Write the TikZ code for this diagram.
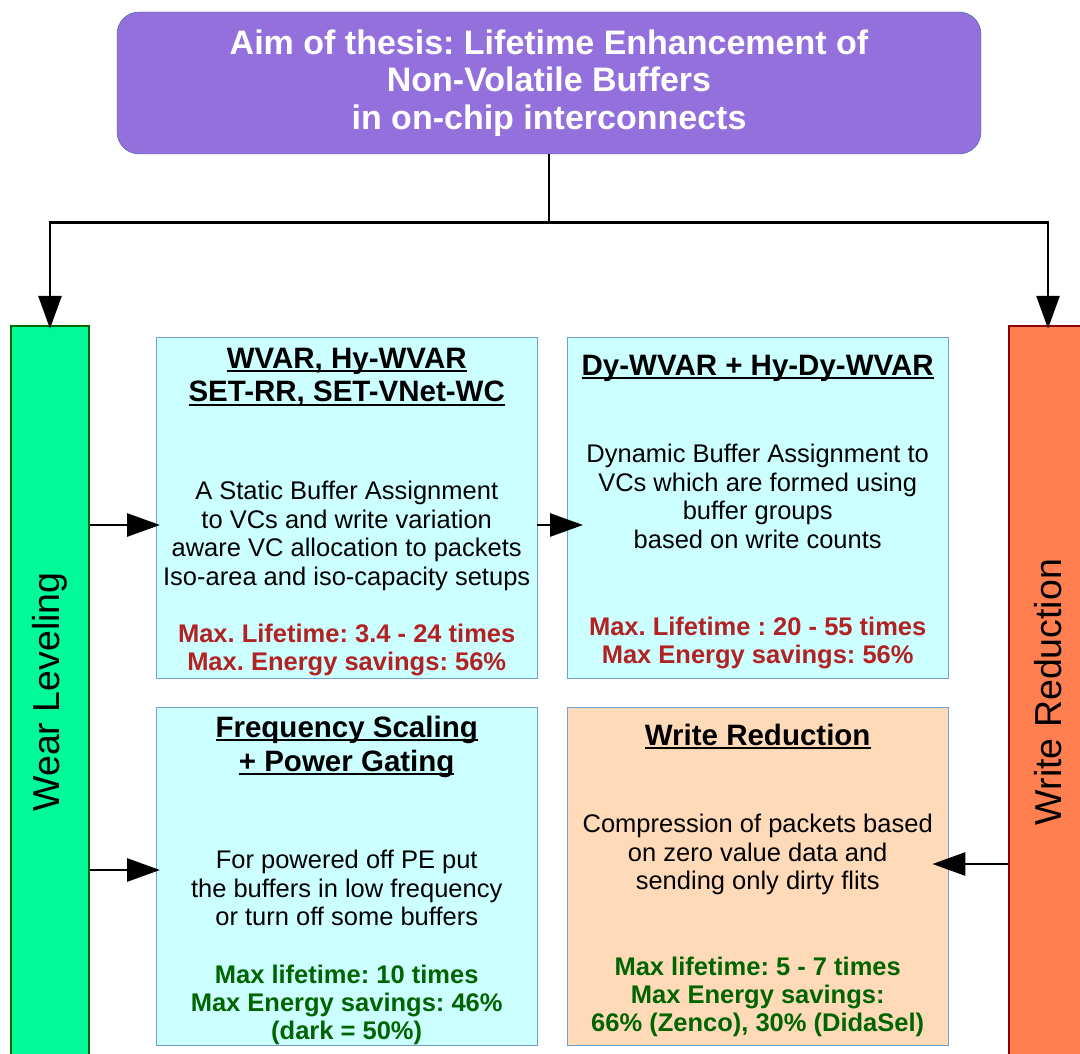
\documentclass[tikz,border=0pt]{standalone}
\usepackage{fontspec}
\setmainfont{Liberation Sans}
\usepackage{xcolor}
\usetikzlibrary{arrows.meta,positioning}
\frenchspacing

\definecolor{aimfill}{HTML}{9370DB}
\definecolor{aimline}{HTML}{3465A4}
\definecolor{wlfill}{HTML}{00FA9A}
\definecolor{wlline}{HTML}{006800}
\definecolor{wrfill}{HTML}{FF7F50}
\definecolor{wrline}{HTML}{8B0000}
\definecolor{cardcyan}{HTML}{CCFFFF}
\definecolor{cardpeach}{HTML}{FFDAB9}
\definecolor{cardline}{HTML}{729FCF}
\definecolor{statred}{HTML}{B22222}
\definecolor{statgreen}{HTML}{006400}

% underlined heading line
\newcommand{\undertitle}[1]{\setbox0\hbox{#1}\rlap{\usebox0}\rule[-3.6pt]{\wd0}{1.8pt}}

\begin{document}
\begin{tikzpicture}[x=1pt, y=-1pt,
  aim/.style={draw=aimline, fill=aimfill, rounded corners=22pt, minimum width=864pt, minimum height=142pt,
    inner sep=0pt, text=white, align=center, font=\fontsize{34}{37.5}\selectfont\bfseries},
  bar/.style={rotate=90, minimum width=732pt, minimum height=78pt, inner sep=0pt, line width=2.5pt,
    font=\fontsize{37.5}{40}\selectfont},
  card/.style={draw=cardline, fill=cardcyan, minimum width=381pt, minimum height=341pt, anchor=north west, inner sep=0pt},
  title/.style={inner sep=0pt, align=center, font=\fontsize{29.5}{33.5}\selectfont\bfseries},
  body/.style={inner sep=0pt, align=center, font=\fontsize{25.5}{28.5}\selectfont},
  stat/.style={inner sep=0pt, align=center, font=\fontsize{25.5}{28}\selectfont\bfseries},
  link/.style={line width=2.8pt, -{Triangle[length=33pt,width=23pt]}}
]
  \clip (0,0) rectangle (1080,1054);

  % Aim of the thesis
  \node[aim] (aim) at (549,83) {Aim of thesis: Lifetime Enhancement of\\Non-Volatile Buffers\\in on-chip interconnects};

  % Side bars
  \node[bar, draw=wlline, fill=wlfill] (wl) at (50,692) {Wear Leveling};
  \node[bar, draw=wrline, fill=wrfill] (wr) at (1048,692) {Write Reduction};

  % Boxes
  \node[card] (wvar) at (156,337) {};
  \node[card] (dywvar) at (567,337) {};
  \node[card, minimum height=338pt] (fsgate) at (156,707) {};
  \node[card, minimum height=338pt, fill=cardpeach] (wred) at (567,707) {};

  % Box texts
  \node[title, below=11pt of wvar.north] (wvar-t) {\undertitle{WVAR, Hy-WVAR}\\\undertitle{SET-RR, SET-VNet-WC}};
  \node[body, below=144pt of wvar.north] (wvar-b) {A Static Buffer Assignment\\to VCs and write variation\\aware VC allocation to packets\\Iso-area and iso-capacity setups};
  \node[stat, text=statred, below=287pt of wvar.north] (wvar-s) {Max. Lifetime: 3.4 - 24 times\\Max. Energy savings: 56\%};

  \node[title, below=18pt of dywvar.north] (dywvar-t) {\undertitle{Dy-WVAR + Hy-Dy-WVAR}};
  \node[body, below=107pt of dywvar.north] (dywvar-b) {Dynamic Buffer Assignment to\\VCs which are formed using\\buffer groups\\based on write counts};
  \node[stat, text=statred, below=280pt of dywvar.north] (dywvar-s) {Max. Lifetime : 20 - 55 times\\Max Energy savings: 56\%};

  \node[title, below=9pt of fsgate.north] (fsgate-t) {\undertitle{Frequency Scaling}\\\undertitle{+ Power Gating}};
  \node[body, below=143pt of fsgate.north] (fsgate-b) {For powered off PE put\\the buffers in low frequency\\or turn off some buffers};
  \node[stat, text=statgreen, below=258pt of fsgate.north] (fsgate-s) {Max lifetime: 10 times\\Max Energy savings: 46\%\\(dark = 50\%)};

  \node[title, below=17pt of wred.north] (wred-t) {\undertitle{Write Reduction}};
  \node[body, below=107pt of wred.north] (wred-b) {Compression of packets based\\on zero value data and\\sending only dirty flits};
  \node[stat, text=statgreen, below=250pt of wred.north] (wred-s) {Max lifetime: 5 - 7 times\\Max Energy savings:\\66\% (Zenco), 30\% (DidaSel)};

  % Connectors
  \coordinate (rowA) at (0,525);
  \coordinate (rowB) at (0,870);
  \coordinate (rowC) at (0,864);
  \draw[link, shorten >=-4pt] (aim.south) -- ++(0,68) -| (wl.east);
  \draw[link, shorten >=-4pt] (aim.south) -- ++(0,68) -| (wr.east);
  \draw[link, shorten >=-4pt] (wl.south |- rowA) -- (wvar.west |- rowA);
  \draw[link, shorten >=-16pt] (wvar.east |- rowA) -- (dywvar.west |- rowA);
  \draw[link, shorten >=-4pt] (wl.south |- rowB) -- (fsgate.west |- rowB);
  \draw[link, shorten >=-16pt] (wr.north |- rowC) -- (wred.east |- rowC);
\end{tikzpicture}
\end{document}
